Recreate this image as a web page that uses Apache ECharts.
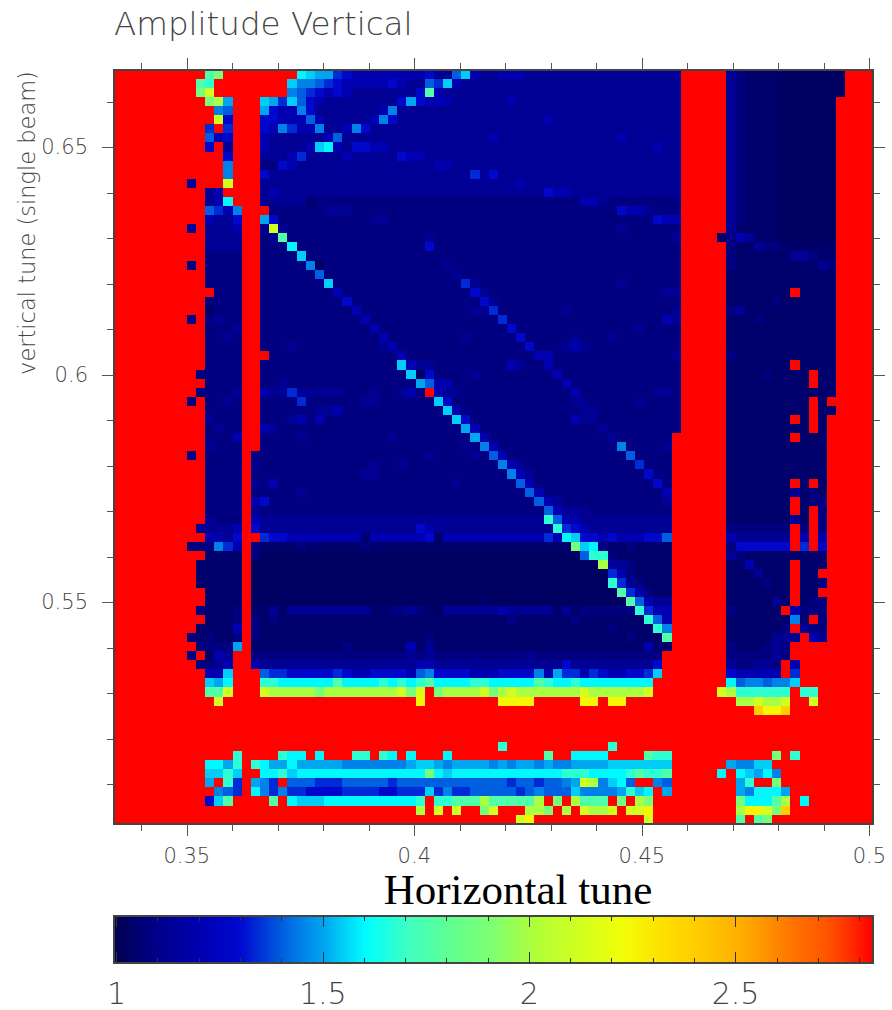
<!DOCTYPE html>
<html><head><meta charset="utf-8">
<style>html,body{margin:0;padding:0;background:#fff}#c{width:892px;height:1010px}#c svg path{shape-rendering:crispEdges}</style>
<script src="https://cdn.jsdelivr.net/npm/echarts@6/dist/echarts.min.js"></script>
</head><body><div id="c"></div>
<script>
const titleText = 'Amplitude Vertical';
const xName = 'Horizontal tune';
const yName = 'vertical tune (single beam)';
const xRange = [0.334, 0.5008];
const yRange = [0.5013, 0.667];
const colorRange = [0.994, 2.833];
const xMajor = [0.35, 0.4, 0.45, 0.5];
const yMajor = [0.55, 0.6, 0.65];
const xMinor = [0.34,0.35,0.36,0.37,0.38,0.39,0.4,0.41,0.42,0.43,0.44,0.45,0.46,0.47,0.48,0.49,0.5];
const yMinor = [0.51,0.52,0.53,0.54,0.55,0.56,0.57,0.58,0.59,0.6,0.61,0.62,0.63,0.64,0.65,0.66];
const cMajor = [1, 1.5, 2, 2.5];
const cMinor = [1.1,1.2,1.3,1.4,1.6,1.7,1.8,1.9,2.1,2.2,2.3,2.4,2.6,2.7,2.8];
const jet = ['#000050','#00008a','#0000b0','#0008d0','#0060e0','#00a8f0','#00ffff','#40ffc0','#60ff90','#80ff70','#b0ff38','#d0ff20','#f0ff08','#ffe000','#ffc800','#ffa800','#ff7800','#ff5000','#ff0000'];
// amplitude read for each code
const levels = {0:1.025,1:1.045,2:1.08,3:1.125,4:1.2,5:1.28,6:1.34,7:1.40,8:1.45,9:1.50,A:1.55,B:1.60,C:1.68,D:1.76,E:1.88,F:2.00,G:2.12,H:2.25,I:2.40,R:2.83};
const columnCount = 83;
// one string per row, top row first: "column:codes", the last code holds up to the next entry
const rows = [
"0:R 10:DE 12:R 20:BA99 24:65 26:4 34:5 35:3 37:7A4 40:3 42:4 45:3 62:R 67:32 69:1 73:0 80:R",
"0:R 9:DC 11:R 19:A8876 24:5 25:4 30:5 31:4 32:3 34:76A4 38:3 62:R 67:32 69:1 73:0 80:R",
"0:R 9:EG 11:R 19:8765 23:454 26:3 33:5D4 36:3 62:R 67:32 69:1 73:0 80:R",
"0:R 10:EF9 13:R 16:A96A754 23:3 31:595 34:4 37:3 43:43 62:R 67:32 69:1 73:0 79:R",
"0:R 11:87 13:R 16:9544853 29:483 62:R 67:32 69:1 73:0 79:R",
"0:R 11:G5 13:R 16:55444743 28:4853 47:43 62:R 67:32 69:1 73:0 79:R",
"0:R 10:6R6 13:R 16:5486448334853 62:R 67:32 69:1 73:0 79:R",
"0:R 10:745 13:R 16:43 23:473 41:43 55:43 62:R 67:32 69:1 73:0 79:R",
"0:R 10:5R3 13:R 16:43 21:4AB43 26:55443 59:43 62:R 67:32 69:1 73:0 79:R",
"0:R 12:5 13:R 16:3 19:463 25:43 31:5443 62:R 67:32 69:1 73:0 79:R",
"0:R 12:8 13:R 16:2 18:543 35:443 62:R 67:32 69:1 73:0 79:R",
"0:R 12:8 13:R 16:53 39:63 41:53 62:R 67:32 69:1 73:0 79:R",
"0:R 8:3R 12:G 13:R 16:3 44:43 62:R 67:32 69:1 73:0 79:R",
"0:R 10:34 12:R 16:34 18:3 47:544 50:3 62:R 67:32 69:1 73:0 79:R",
"0:R 10:34B 13:R 16:3 20:312 51:443 54:2 62:R 67:32 69:1 73:0 79:R",
"0:R 10:7648 14:R 17:2 23:3 26:2 55:5443 59:2 62:R 67:32 69:1 73:0 79:R",
"0:R 10:4335 14:R 16:952 28:332 59:544 62:R 67:32 69:1 73:0 79:R",
"0:R 8:3R 10:3334 14:R 16:3G3 19:2 55:32 62:R 67:31 73:0 79:R",
"0:R 10:3 14:R 16:23D2 34:32 61:3 62:R 66:1 67:2 68:431 73:0 79:R",
"0:R 10:3 14:R 16:2 19:B2 34:52 62:R 67:21 70:3221 79:R",
"0:R 10:2 14:R 16:2 20:A2 62:R 67:21 74:3321 79:R",
"0:R 8:2R 10:2 14:R 16:2 21:802 36:32 62:R 67:21 77:32 79:R",
"0:R 10:2 14:R 16:2 22:72 37:32 62:R 67:1 79:R",
"0:R 10:2 14:R 16:2 23:A2 38:632 55:32 62:R 67:1 79:R",
"0:R 11:2 14:R 16:2 24:42 39:532 60:3 62:R 67:1 74:R1 79:R",
"0:R 10:2 14:R 16:2 25:52 40:532 62:R 67:1 72:21 79:R",
"0:R 10:12 14:R 16:2 26:42 39:3 41:62 49:32 61:3 62:R 67:231 79:R",
"0:R 8:2R 10:232 14:R 16:2 27:42 42:62 60:43 62:R 67:1 70:21 79:R",
"0:R 10:2 13:3 14:R 16:2 28:42 43:52 57:32 62:R 67:1 79:R",
"0:R 10:2 12:32 14:R 16:2 29:42 38:32 44:52 50:32 54:32 62:R 67:1 79:R",
"0:R 10:2 14:R 16:2 19:32 29:342 45:52 49:3432 62:R 67:1 79:R",
"0:R 10:2 14:R 17:2 31:42 46:442 61:3 62:R 67:21 79:R",
"0:R 10:2 14:R 16:2 31:A4332 43:432 47:42 62:R 67:1 74:R1 79:R",
"0:R 9:2 14:R 16:2 32:A052 39:32 48:42 62:R 67:1 71:21 76:R1 79:R",
"0:R 10:2 14:R 16:2 18:32 33:97442 49:42 62:R 67:1 76:R1 79:R",
"0:R 9:2 13:3 14:R 16:43 19:63 25:2 28:32 31:342 34:R4 36:332 50:42 59:332 62:R 67:1 79:R",
"0:R 8:2R 10:2 12:32 14:R 16:2 20:62 27:332 35:A52 50:332 57:32 62:R 67:1 76:R1 78:R",
"0:R 10:2 14:R 16:2 22:3342 36:A42 51:332 62:R 67:1 76:R1 79:R",
"0:R 10:32 14:R 16:2 19:342 22:42 37:A52 50:4332 62:R 67:1 74:R1 76:R1 78:R",
"0:R 10:232 14:R 16:432 38:942 53:32 62:R 67:1 76:R1 78:R",
"0:R 10:2 13:4 14:R 16:2 20:32 30:32 39:942 54:32 61:R 67:1 74:R1 78:R",
"0:R 10:32 14:R 16:2 38:32 40:842 55:82 60:3 61:R 67:1 78:R",
"0:R 8:2R 10:2 14:R 15:2 34:32 39:32 41:742 56:72 61:R 67:1 78:R",
"0:R 10:2 14:R 15:32 28:32 31:32 42:8432 57:62 61:R 67:1 78:R",
"0:R 10:2 14:R 15:2 27:332 43:8432 58:52 61:R 67:1 78:R",
"0:R 10:2 14:R 15:32 17:42 37:32 44:742 59:52 61:R 67:1 74:R1 76:R1 78:R",
"0:R 10:2 14:R 15:2 20:32 45:742 60:4 61:R 67:1 74:31 76:21 78:R",
"0:R 10:2 14:R 15:452 46:7432 60:3 61:R 67:1 74:R1 76:22 78:R",
"0:R 10:2 14:R 15:32 47:743332 61:R 67:1 74:R1 76:R2 78:R",
"0:R 10:32 14:R 15:43 47:C7443 61:R 67:1 74:31 76:R2 78:R",
"0:R 9:3 13:4 14:R 15:53 33:543 48:C6543 61:R 67:2 74:R2 76:R2 78:R",
"0:R 10:4435 14:R 16:655 19:4 27:14 34:514 47:64BA5545444557 61:R 67:43 74:R4 76:R4 78:R",
"0:R 8:2 11:864 14:R 15:21 20:21 27:21 50:EAB21 56:21 61:R 67:25 74:R6 76:R5 78:R",
"0:R 10:1 14:R 15:20 51:7CC21 61:R 67:321 78:R",
"0:R 9:1 14:R 15:0 53:F3321 61:R 67:1 69:41 74:R1 78:R",
"0:R 9:1 14:R 15:0 54:6421 61:R 67:1 70:31 74:R1 77:R",
"0:R 9:1 14:R 15:0 54:C632 58:1 61:R 67:1 71:21 74:R1 77:2 78:R",
"0:R 10:1 14:R 15:0 55:D6421 61:R 67:1 74:R1 77:R",
"0:R 10:1 14:R 15:0 40:10 56:D7433 61:R 67:1 72:31 74:R12 78:R",
"0:R 9:21 13:2 14:R 15:1 17:31 19:3 28:1 30:2 32:321 35:03 42:43 48:131 51:2 57:C644 61:R 67:21 73:R42 78:R",
"0:R 10:1 13:2 14:R 15:212 18:1 43:21 50:21 58:C74 61:R 67:1 74:81 76:R2 78:R",
"0:R 9:1 13:4 14:R 15:21 54:21 59:C8 61:R 67:1 73:2R32 78:R",
"0:R 8:212 11:1 13:2 14:R 15:21 34:21 56:21 60:D 61:R 67:1 72:3 75:R43 78:R",
"0:R 9:2 13:9 14:R 15:1 25:21 32:4134 35:1 58:41 61:R 67:21 71:232 74:R",
"0:R 8:2R 10:143 13:R 15:2 32:3232 45:32 60:R 67:2 72:32 74:R",
"0:R 9:2234 13:R 15:43 33:443 49:53 59:5 60:R 67:322 70:332 73:R4 75:R",
"0:R 10:44A 13:R 16:7665555565445555478555544455558496646544556A 60:R 67:54 73:R6 75:R",
"0:R 10:A9B 13:R 16:CCB 24:DB 29:CBCBCDB 39:CCB 46:DCB 50:CB 59:R 67:B788788A 75:R",
"0:R 10:DDG 13:R 16:GF 22:EF 31:GEGRE 36:F 40:GE 42:FGF 51:GF 58:G 59:R 66:GF 68:C 74:R 75:CC 77:R",
"0:R 11:G 12:R 33:H 34:R 42:H 46:R 51:HH 53:R 54:HH 56:R 68:FFGFFG 74:R 76:G 77:R",
"0:R 70:IHHI 74:R",
"0:R",
"0:R",
"0:R",
"0:R 42:C 43:R 54:C 55:R",
"0:R 13:C 14:R 18:CBB 21:R 22:B 23:R 26:CC 28:R 29:CB 31:R 32:B 33:R 36:B 37:R 47:D 48:R 50:B 54:R 58:DCC 61:R 72:E 73:R 74:C 75:R",
"0:R 10:BB9C 14:R 15:CB99B 20:9 25:8 32:9AA98 37:9 41:89899 46:899 48:8 50:9 54:A 61:R 67:988AA 72:R",
"0:R 10:AACA 14:R 16:BBCA 20:B 34:EBAB 49:CCC 52:B 56:CDCCD 61:R 66:BR 68:BA9B8 73:R",
"0:R 10:9RC6 14:R 15:986R7 22:6 25:7 30:67 43:677 46:677 49:89GF8AB7 57:RR 59:87 61:R 68:9C 70:RR 72:E 73:R",
"0:R 11:876 14:R 15:B86866 21:5 25:6 29:55 31:666 34:A686 39:7 44:67 46:87 50:A8888 55:9CAB 59:R9 61:R 68:98BBB9 74:R",
"0:R 10:5AD 13:R 17:DRB 20:A 23:B 33:CR 35:CC 37:D 40:FD 46:FRERF 51:D 54:RER 57:FE 59:R 68:EBBBDF 74:R 75:B 76:R",
"0:R 33:FRGRGR 40:EG 42:R 45:FFE 48:R 49:F 50:R 51:GFFG 55:R 56:GGH 59:R 68:FHHGEI 74:R",
"0:R 44:GH 46:R 58:G 59:R 68:DRDE 72:R"
];

function decodeRow(text) {
  const cells = new Array(columnCount);
  const parts = text.split(' ');
  parts.forEach((part, p) => {
    const [start, codes] = part.split(':');
    const from = +start;
    const next = p + 1 < parts.length ? +parts[p + 1].split(':')[0] : columnCount;
    for (let c = from; c < next; c++) {
      cells[c] = levels[codes[Math.min(c - from, codes.length - 1)]];
    }
  });
  return cells;
}
const cellData = [];
rows.forEach((text, r) => decodeRow(text).forEach((v, c) => cellData.push([c, rows.length - 1 - r, v])));
const colIndex = Array.from({length: columnCount}, (_, i) => i);
const rowIndex = rows.map((_, i) => i);

const ink = '#444';
const thin = "'DejaVu Sans'";
const labelInk = '#444';
const lineStyle = {color: ink, width: 2};
const tickLine = {color: '#555', width: 1};

function xVal(pos, custom, len, labelled) {
  return {type:'value', gridIndex:0, position:pos, min:xRange[0], max:xRange[1], z:5,
    splitLine:{show:false},
    axisLine:{onZero:false, lineStyle},
    axisTick:{show:true, customValues:custom, length:len, lineStyle:tickLine},
    axisLabel: labelled ? {show:true, customValues:custom, margin:21, fontFamily:thin, fontWeight:200, fontSize:21, color:labelInk} : {show:false}};
}
function yVal(pos, custom, len, labelled) {
  return {type:'value', gridIndex:0, position:pos, min:yRange[0], max:yRange[1], z:5,
    splitLine:{show:false},
    axisLine:{onZero:false, lineStyle},
    axisTick:{show:true, customValues:custom, length:len, lineStyle:tickLine},
    axisLabel: labelled ? {show:true, customValues:custom, margin:26, fontFamily:thin, fontWeight:200, fontSize:21, color:labelInk} : {show:false}};
}
function barX(pos, custom, len, labelled) {
  return {type:'value', gridIndex:1, position:pos, min:colorRange[0], max:colorRange[1], z:6,
    splitLine:{show:false},
    axisLine:{onZero:false, lineStyle},
    axisTick:{show:true, inside:true, customValues:custom, length:len, lineStyle:{color:'#333', width:1}},
    axisLabel: labelled ? {show:true, customValues:custom, margin:15, fontFamily:thin, fontWeight:200, fontSize:30, color:labelInk} : {show:false}};
}
function barY(pos) {
  return {type:'value', gridIndex:1, position:pos, min:0, max:1, z:6, splitLine:{show:false},
    axisLine:{onZero:false, lineStyle}, axisTick:{show:false}, axisLabel:{show:false}};
}

const chart = echarts.init(document.getElementById('c'), null, {renderer:'svg'});
chart.setOption({
  animation:false,
  backgroundColor:'#fff',
  title:{text:titleText, left:114, top:7, padding:0,
    textStyle:{fontFamily:thin, fontSize:32.5, fontWeight:200, color:labelInk}},
  grid:[
    {left:114, top:70, width:759, height:754, containLabel:false},
    {left:114, top:916, width:759, height:47, containLabel:false}
  ],
  xAxis:[
    {type:'category', gridIndex:0, data:colIndex, show:false},
    xVal('bottom', xMajor, 12, true),
    xVal('bottom', xMinor, 7, false),
    xVal('top', xMajor, 12, false),
    xVal('top', xMinor, 7, false),
    barX('bottom', cMajor, 11, true),
    barX('bottom', cMinor, 5, false),
    barX('top', cMajor, 11, false),
    barX('top', cMinor, 5, false)
  ],
  yAxis:[
    {type:'category', gridIndex:0, data:rowIndex, show:false},
    yVal('left', yMajor, 12, true),
    yVal('left', yMinor, 7, false),
    yVal('right', yMajor, 12, false),
    yVal('right', yMinor, 7, false),
    barY('left'),
    barY('right')
  ],
  visualMap:{type:'continuous', seriesIndex:0, min:colorRange[0], max:colorRange[1],
    calculable:false, orient:'horizontal', left:114, top:916, padding:0,
    itemWidth:47, itemHeight:759, text:null, hoverLink:false, z:1,
    inRange:{color:jet}},
  graphic:[
    {type:'text', silent:true, x:518, y:889, style:{text:xName, align:'center', verticalAlign:'middle',
      font:"43px 'Liberation Serif'", fill:'#000'}},
    {type:'text', silent:true, x:27, y:223, rotation:Math.PI/2,
      style:{text:yName, align:'center', verticalAlign:'middle',
      font:"200 22.5px 'DejaVu Sans'", fill:labelInk}}
  ],
  series:[{type:'heatmap', xAxisIndex:0, yAxisIndex:0, data:cellData, progressive:0,
    emphasis:{disabled:true}, itemStyle:{borderWidth:0}}]
});
</script></body></html>
